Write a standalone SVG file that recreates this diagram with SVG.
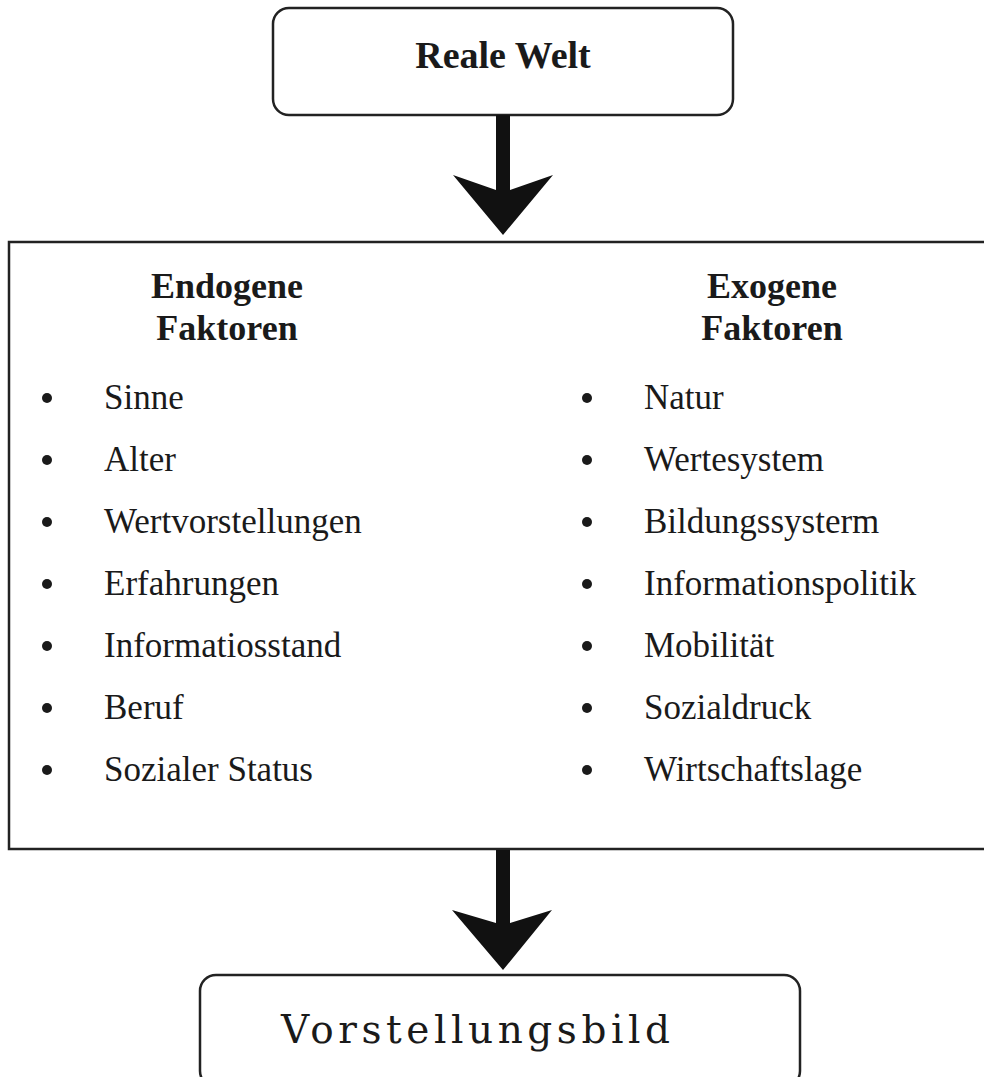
<svg xmlns="http://www.w3.org/2000/svg" width="984" height="1077" viewBox="0 0 984 1077">
<style>
  .box { fill: #ffffff; stroke: #222222; stroke-width: 2.5; }
  .arrow { fill: #111111; stroke: none; }
  .title { font-family: "Liberation Serif", "Times New Roman", serif; font-weight: bold; fill: #1a1a1a; }
  .item { font-family: "Liberation Serif", "Times New Roman", serif; font-size: 35px; fill: #1a1a1a; }
  .bullet { fill: #1a1a1a; }
  .result { font-family: "DejaVu Serif", "Liberation Serif", serif; font-size: 39px; fill: #1a1a1a; }
</style>
<rect width="984" height="1077" fill="#ffffff"/>

<g id="reale-welt">
  <rect class="box" x="273" y="8" width="460" height="107" rx="16" ry="16"/>
  <text class="title" x="503" y="68" font-size="38" text-anchor="middle">Reale Welt</text>
</g>

<g id="faktoren">
  <rect class="box" x="9" y="242" width="990" height="607"/>
  <g id="endogen">
    <text class="title" x="227" y="298" font-size="36" text-anchor="middle">Endogene</text>
    <text class="title" x="227" y="340" font-size="36" text-anchor="middle">Faktoren</text>
    <g class="bullet">
      <circle cx="47" cy="398" r="5"/>
      <circle cx="47" cy="460" r="5"/>
      <circle cx="47" cy="522" r="5"/>
      <circle cx="47" cy="584" r="5"/>
      <circle cx="47" cy="646" r="5"/>
      <circle cx="47" cy="708" r="5"/>
      <circle cx="47" cy="770" r="5"/>
    </g>
    <text class="item" x="104" y="409">Sinne</text>
    <text class="item" x="104" y="471">Alter</text>
    <text class="item" x="104" y="533">Wertvorstellungen</text>
    <text class="item" x="104" y="595">Erfahrungen</text>
    <text class="item" x="104" y="657">Informatiosstand</text>
    <text class="item" x="104" y="719">Beruf</text>
    <text class="item" x="104" y="781">Sozialer Status</text>
  </g>
  <g id="exogen">
    <text class="title" x="772" y="298" font-size="36" text-anchor="middle">Exogene</text>
    <text class="title" x="772" y="340" font-size="36" text-anchor="middle">Faktoren</text>
    <g class="bullet">
      <circle cx="587" cy="398" r="5"/>
      <circle cx="587" cy="460" r="5"/>
      <circle cx="587" cy="522" r="5"/>
      <circle cx="587" cy="584" r="5"/>
      <circle cx="587" cy="646" r="5"/>
      <circle cx="587" cy="708" r="5"/>
      <circle cx="587" cy="770" r="5"/>
    </g>
    <text class="item" x="644" y="409">Natur</text>
    <text class="item" x="644" y="471">Wertesystem</text>
    <text class="item" x="644" y="533">Bildungssysterm</text>
    <text class="item" x="644" y="595">Informationspolitik</text>
    <text class="item" x="644" y="657">Mobilität</text>
    <text class="item" x="644" y="719">Sozialdruck</text>
    <text class="item" x="644" y="781">Wirtschaftslage</text>
  </g>
</g>

<g id="vorstellungsbild">
  <rect class="box" x="200" y="975" width="600" height="112" rx="16" ry="16"/>
  <text class="result" x="281" y="1043" textLength="389" lengthAdjust="spacing">Vorstellungsbild</text>
</g>

<g id="connectors">
  <polygon class="arrow" points="496,115 510,115 510,190 553,175 503,235 453,175 496,190"/>
  <polygon class="arrow" points="496,850 510,850 510,923 552,910 503,970 452,910 496,923"/>
</g>
</svg>
